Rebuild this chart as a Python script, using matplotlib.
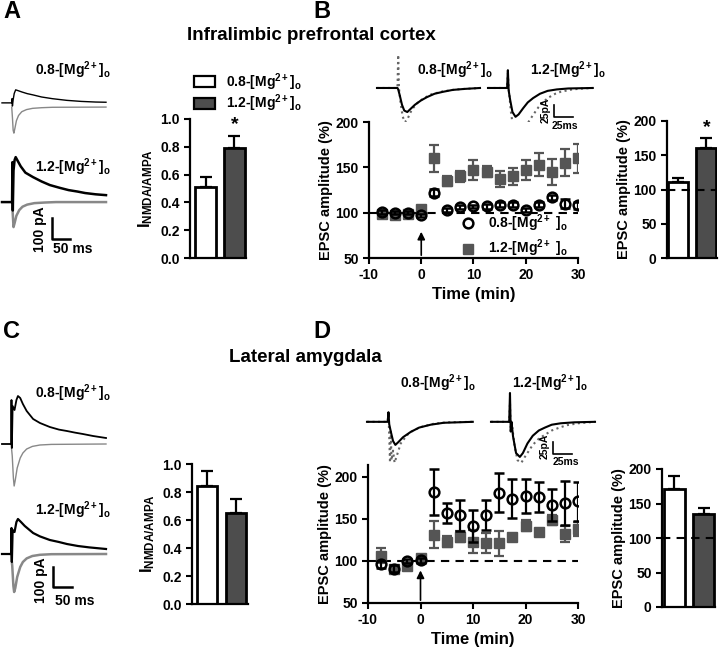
import numpy as np
import matplotlib
matplotlib.use('Agg')
import matplotlib.pyplot as plt
from matplotlib.patches import Patch
from matplotlib.lines import Line2D

plt.rcParams['font.family'] = ['Liberation Sans', 'DejaVu Sans']
plt.rcParams['font.weight'] = 'bold'
plt.rcParams['axes.labelweight'] = 'bold'
plt.rcParams['axes.unicode_minus'] = False
plt.rcParams['mathtext.fontset'] = 'custom'
plt.rcParams['mathtext.rm'] = 'Liberation Sans:bold'
plt.rcParams['mathtext.it'] = 'Liberation Sans:bold'
plt.rcParams['mathtext.bf'] = 'Liberation Sans:bold'
plt.rcParams['mathtext.default'] = 'rm'

# ---- data ----
time = [-7.5, -5, -2.5, 0, 2.5, 5, 7.5, 10, 12.5, 15, 17.5, 20, 22.5, 25, 27.5, 30]

# B: infralimbic time course (% of baseline)
b_low = [101, 100, 100, 97, 122, 103, 106, 107, 107, 109, 109, 103, 109, 117, 110, 108]
b_low_err = [2, 2, 2, 2, 4, 2, 2, 2, 3, 3, 3, 2, 3, 3, 5, 4]
b_high = [98, 97, 98, 104, 160, 135, 140, 147, 145, 137, 140, 147, 153, 145, 155, 160]
b_high_err = [2, 2, 2, 2, 15, 5.5, 6.5, 11, 6, 9, 9, 11, 13, 14, 15, 16]

# D: lateral amygdala time course
d_low = [96, 91, 100, 101, 182, 157, 154, 141, 155, 181, 174, 177, 176, 167, 169, 171]
d_low_err = [4, 4, 2, 3, 27, 12, 18, 19, 18, 23, 23, 20, 18, 19, 26, 23]
d_high = [106, 90, 94, 103, 131, 123, 129, 123, 121, 121, 128, 142, 134, 149, 132, 138]
d_high_err = [9, 4, 3, 3, 16, 7, 6, 14, 12, 15, 2, 7, 3, 6, 10, 8]

# bar summaries
a_ratio = [0.51, 0.79]
a_ratio_err = [0.07, 0.09]
c_ratio = [0.845, 0.65]
c_ratio_err = [0.105, 0.10]
b_amp = [111, 160]
b_amp_err = [6, 15]
d_amp = [171, 135]
d_amp_err = [19, 8]

# example traces, (ms, pA) relative to baseline
a_low_nmda = [[0, 0], [27, 0], [28, 20], [29, -15], [31, 15], [34, 45], [38, 62], [45, 58], [55, 52],
              [70, 44], [86, 38], [110, 28], [140, 20], [180, 12], [220, 7], [260, 4], [289, 3]]
a_low_ampa = [[27, 0], [29, -50], [31, -110], [33, -124], [36, -100], [40, -65], [46, -40], [55, -22],
              [68, -12], [85, -6], [110, -3], [140, -1], [289, 0]]
a_high_nmda = [[0, 0], [28, 0], [29, 190], [30, -40], [32, 150], [35, 200], [38, 214], [44, 195],
               [52, 170], [65, 140], [86, 119], [110, 98], [133, 81], [160, 68], [185, 57],
               [210, 50], [231, 43], [260, 37], [289, 33]]
a_high_ampa = [[28, 0], [30, -60], [32, -119], [35, -100], [40, -65], [48, -38], [57, -22],
               [70, -12], [90, -5], [120, -2], [150, 0], [289, 0]]

c_low_nmda = [[0, 0], [24, 0], [25, 220], [26, -20], [28, 190], [33, 170], [38, 220], [42, 240],
              [48, 230], [55, 200], [65, 165], [82, 125], [100, 105], [126, 85], [150, 72],
              [171, 65], [192, 57], [213, 50], [240, 40], [274, 30]]
c_low_ampa = [[24, 0], [27, -60], [30, -170], [32, -210], [35, -180], [40, -120], [48, -70],
              [55, -45], [65, -25], [80, -12], [100, -5], [130, -2], [274, 0]]
c_high_nmda = [[0, 0], [24, 0], [25, 130], [26, -40], [28, 120], [33, 110], [38, 160], [42, 175],
               [50, 160], [60, 140], [82, 105], [100, 88], [126, 70], [150, 60], [171, 50],
               [200, 40], [230, 33], [274, 25]]
c_high_ampa = [[24, 0], [27, -60], [30, -160], [32, -190], [35, -170], [40, -115], [48, -65],
               [55, -40], [65, -22], [80, -10], [100, -4], [130, -1], [274, 0]]

b_low_pre = [[0, 0], [27, 0], [28, -3], [30, -15], [33, -35], [36, -47], [40, -50], [44, -44],
             [50, -35], [58, -26], [66, -19], [76, -12], [87, -8], [100, -4], [115, -2], [136, 0]]
b_low_post = [[0, 0], [27, 0], [28, 69], [29, 0], [31, -30], [34, -60], [37, -71], [41, -62],
              [46, -45], [54, -30], [62, -21], [72, -13], [87, -7], [105, -3], [136, 0]]
b_high_pre = [[0, 0], [25, 0], [26, 37], [27, -5], [29, -25], [32, -50], [36, -60], [40, -55],
              [46, -42], [52, -30], [59, -21], [68, -12], [78, -6], [90, -3], [105, -1], [137, 0]]
b_high_post = [[0, 0], [25, 0], [26, 30], [27, 0], [30, -50], [34, -95], [38, -114], [42, -105],
               [48, -85], [54, -68], [59, -56], [66, -40], [72, -30], [78, -21], [88, -12],
               [95, -8], [110, -3], [125, -1], [137, 0]]

d_low_pre = [[0, 0], [27, 0], [28, 20], [29, -5], [31, -20], [34, -40], [37, -48], [41, -42],
             [47, -32], [57, -21], [68, -12], [83, -6], [100, -2], [138, 0]]
d_low_post = [[0, 0], [27, 0], [28, 20], [29, -30], [30, -85], [31, -20], [32, -80], [34, -60],
              [36, -85], [39, -70], [44, -45], [52, -28], [60, -18], [72, -10], [87, -4],
              [105, -1], [138, 0]]
d_high_pre = [[0, 0], [24, 0], [25, 60], [26, -20], [27, 0], [29, -30], [33, -65], [38, -73],
              [42, -65], [48, -45], [55, -29], [63, -18], [71, -12], [80, -6], [92, -3],
              [110, -1], [137, 0]]
d_high_post = [[0, 0], [24, 0], [25, 40], [26, -20], [28, -10], [31, -50], [35, -80], [40, -85],
               [45, -72], [55, -48], [63, -35], [71, -27], [80, -18], [92, -11], [100, -7],
               [115, -3], [137, 0]]

MG08 = r'0.8-[Mg$^{2+}$]$_{\rm o}$'
MG12 = r'1.2-[Mg$^{2+}$]$_{\rm o}$'
DARK = '#4d4d4d'
SQ = '#555555'

W, H = 720, 647
fig = plt.figure(figsize=(W / 100, H / 100), dpi=100)


def px_axes(x0, y0, x1, y1):
    # axes placed by pixel box (top-left origin)
    return fig.add_axes([x0 / W, 1 - y1 / H, (x1 - x0) / W, (y1 - y0) / H])


def ftext(x, y, s, **kw):
    fig.text(x / W, 1 - y / H, s, **kw)


def style(ax):
    for s in ['top', 'right']:
        ax.spines[s].set_visible(False)
    for s in ['left', 'bottom']:
        ax.spines[s].set_linewidth(1.6)
    ax.tick_params(width=1.5, length=4, labelsize=10)


def tr(ax, pts, off=0, **kw):
    p = np.array(pts, dtype=float)
    ax.plot(p[:, 0], p[:, 1] + off, clip_on=False, **kw)


def bars(ax, vals, errs, ylim, ticks, xl):
    ax.bar([1, 2], vals, width=0.7, color=['white', DARK], edgecolor='k', linewidth=2, zorder=2)
    for i, (v, e) in enumerate(zip(vals, errs)):
        ax.errorbar(i + 1, v, yerr=[[0], [e]], color='k', capsize=4, elinewidth=1.6,
                    capthick=1.6, zorder=1)
    ax.set_xlim(*xl)
    ax.set_ylim(*ylim)
    ax.set_yticks(ticks)
    ax.set_xticks([])
    style(ax)
    ax.spines['bottom'].set_bounds(xl[0], 2.37)


def course(ax, low, low_err, high, high_err, ylim, arrow_top):
    ax.axhline(100, color='k', ls='--', lw=1.5, dashes=(4, 3), zorder=1)
    ax.errorbar(time, high, yerr=high_err, fmt='s', color=SQ, ms=6.5, capsize=3.5,
                elinewidth=1.6, capthick=1.6, zorder=2)
    ax.errorbar(time, low, yerr=low_err, fmt='o', color='k', mfc='none', mec='k', mew=1.8,
                ms=7, capsize=3.5, elinewidth=1.6, capthick=1.6, zorder=3)
    ax.annotate('', xy=(0, arrow_top), xytext=(0, ylim[0]),
                arrowprops=dict(arrowstyle='-|>', color='k', lw=1.2, mutation_scale=11))
    ax.set_xlim(-10, 30)
    ax.set_ylim(*ylim)
    ax.set_xticks([-10, 0, 10, 20, 30])
    ax.set_yticks([50, 100, 150, 200])
    ax.set_xlabel('Time (min)', fontsize=12, labelpad=3)
    ax.set_ylabel('EPSC amplitude (%)', fontsize=10.5, labelpad=2)
    style(ax)


# ---------------- panel letters & titles ----------------
for x, y, s in [(3, 12, 'A'), (313, 12, 'B'), (3, 332, 'C'), (313, 332, 'D')]:
    ftext(x, y, s, fontsize=17, fontweight='bold', va='center')
ftext(311, 35, 'Infralimbic prefrontal cortex', fontsize=13.5, ha='center', va='center')
ftext(305, 357, 'Lateral amygdala', fontsize=13.5, ha='center', va='center')

# ---------------- A traces ----------------
axt = px_axes(2, 60, 106, 250)
axt.set_xlim(0, 289)
axt.set_ylim(-690, 214)
axt.axis('off')
tr(axt, a_low_ampa, -10, color='#888888', lw=1.0)
tr(axt, a_low_nmda, 10, color='k', lw=1.0)
tr(axt, a_high_ampa, -462, color='#888888', lw=1.8)
tr(axt, a_high_nmda, -462, color='k', lw=1.8)
axt.plot([139, 139, 189], [-538, -638, -638], color='k', lw=1.8, clip_on=False)
ftext(35, 70, MG08, fontsize=10, va='center')
ftext(35, 167, MG12, fontsize=10, va='center')
ftext(40, 229, '100 pA', fontsize=10, rotation=90, ha='center', va='center')
ftext(53, 249, '50 ms', fontsize=10, va='center')

# ---------------- A bars ----------------
axa = px_axes(190, 119, 250, 258)
bars(axa, a_ratio, a_ratio_err, (0, 1.0), [0, 0.2, 0.4, 0.6, 0.8, 1.0], (0.46, 2.54))
axa.set_yticklabels(['0.0', '0.2', '0.4', '0.6', '0.8', '1.0'])
axa.spines['bottom'].set_bounds(0.46, 2.4)
axa.text(2, 0.90, '*', ha='center', va='bottom', fontsize=14)
axa.set_ylabel(r'I$_{\rm NMDA/AMPA}$', fontsize=12, labelpad=4)
fig.legend(handles=[Patch(fc='white', ec='k', lw=1.6), Patch(fc=DARK, ec='k', lw=1.6)],
           labels=[MG08, MG12], loc='upper left', bbox_to_anchor=(194 / W, 1 - 71 / H),
           frameon=False, fontsize=10, handlelength=1.5, handleheight=0.85,
           handletextpad=0.8, borderpad=0, borderaxespad=0, labelspacing=0.0)

# ---------------- B traces ----------------
axb1 = px_axes(377, 50, 480, 150)
axb2 = px_axes(488, 50, 592, 150)
for ax in (axb1, axb2):
    ax.set_xlim(0, 136)
    ax.set_ylim(-129, 79)
    ax.axis('off')
tr(axb1, b_low_post, color='#666666', lw=1.5, ls=':')
tr(axb1, b_low_pre, color='k', lw=1.5)
tr(axb2, b_high_post, color='#666666', lw=1.5, ls=':')
tr(axb2, b_high_pre, color='k', lw=1.5)
axb2.plot([86, 86, 111], [-35, -60, -60], color='k', lw=1.2, clip_on=False)
ftext(417, 70, MG08, fontsize=10, va='center')
ftext(530, 70, MG12, fontsize=10, va='center')
ftext(546, 110, '25pA', fontsize=7.5, rotation=90, ha='center', va='center')
ftext(552, 126, '25ms', fontsize=7.5, va='center')

# ---------------- B time course ----------------
axb = px_axes(369, 122, 578, 258)
course(axb, b_low, b_low_err, b_high, b_high_err, (50, 200), 82)
axb.legend(handles=[Line2D([], [], marker='o', ls='none', mfc='none', mec='k', mew=1.8, ms=7),
                    Line2D([], [], marker='s', ls='none', color=SQ, ms=6.5)],
           labels=[r'0.8-[Mg$^{2+}$ ]$_{\rm o}$', r'1.2-[Mg$^{2+}$ ]$_{\rm o}$'],
           loc='upper left', bbox_to_anchor=(460 / W, 1 - 212 / H), bbox_transform=fig.transFigure,
           frameon=False, fontsize=10, handlelength=1.2, handletextpad=0.8, borderpad=0,
           borderaxespad=0, labelspacing=0.3)

# ---------------- B bars ----------------
axbb = px_axes(667, 121, 717, 258)
bars(axbb, b_amp, b_amp_err, (0, 200), [0, 50, 100, 150, 200], (0.63, 2.37))
axbb.axhline(100, color='k', ls='--', lw=1.5, dashes=(4, 3), zorder=3)
axbb.text(2, 178, '*', ha='center', va='bottom', fontsize=14)
axbb.set_ylabel('EPSC amplitude (%)', fontsize=10.5, labelpad=2)

# ---------------- C traces ----------------
axc = px_axes(2, 370, 106, 640)
axc.set_xlim(0, 274)
axc.set_ylim(-980, 370)
axc.axis('off')
tr(axc, c_low_ampa, color='#888888', lw=1.0)
tr(axc, c_low_nmda, color='k', lw=1.3)
tr(axc, c_high_ampa, -550, color='#888888', lw=1.8)
tr(axc, c_high_nmda, -550, color='k', lw=1.6)
axc.plot([134, 134, 184], [-615, -715, -715], color='k', lw=1.8, clip_on=False)
ftext(35, 393, MG08, fontsize=10, va='center')
ftext(35, 510, MG12, fontsize=10, va='center')
ftext(41, 580, '100 pA', fontsize=10, rotation=90, ha='center', va='center')
ftext(55, 601, '50 ms', fontsize=10, va='center')

# ---------------- C bars ----------------
axcb = px_axes(192, 464, 251, 604)
bars(axcb, c_ratio, c_ratio_err, (0, 1.0), [0, 0.2, 0.4, 0.6, 0.8, 1.0], (0.48, 2.52))
axcb.set_yticklabels(['0.0', '0.2', '0.4', '0.6', '0.8', '1.0'])
axcb.spines['bottom'].set_bounds(0.48, 2.4)
axcb.set_ylabel(r'I$_{\rm NMDA/AMPA}$', fontsize=12, labelpad=4)

# ---------------- D traces ----------------
axd1 = px_axes(367, 380, 472, 480)
axd2 = px_axes(491, 380, 595, 480)
for ax in (axd1, axd2):
    ax.set_xlim(0, 137)
    ax.set_ylim(-121, 87)
    ax.axis('off')
tr(axd1, d_low_post, color='#666666', lw=1.5, ls=':')
tr(axd1, d_low_pre, color='k', lw=1.5)
tr(axd2, d_high_post, color='#666666', lw=1.5, ls=':')
tr(axd2, d_high_pre, color='k', lw=1.5)
axd2.plot([82, 82, 107], [-42, -67, -67], color='k', lw=1.2, clip_on=False)
ftext(400, 383, MG08, fontsize=10, va='center')
ftext(512, 383, MG12, fontsize=10, va='center')
ftext(545, 446, '25pA', fontsize=7.5, rotation=90, ha='center', va='center')
ftext(553, 462, '25ms', fontsize=7.5, va='center')

# ---------------- D time course ----------------
axd = px_axes(368, 465, 578, 603)
course(axd, d_low, d_low_err, d_high, d_high_err, (50, 214), 92)

# ---------------- D bars ----------------
axdb = px_axes(662, 469, 716, 607)
bars(axdb, d_amp, d_amp_err, (0, 200), [0, 50, 100, 150, 200], (0.6, 2.4))
axdb.axhline(100, color='k', ls='--', lw=1.5, dashes=(4, 3), zorder=3)
axdb.set_ylabel('EPSC amplitude (%)', fontsize=10.5, labelpad=2)

fig.savefig('out.png', dpi=100)
